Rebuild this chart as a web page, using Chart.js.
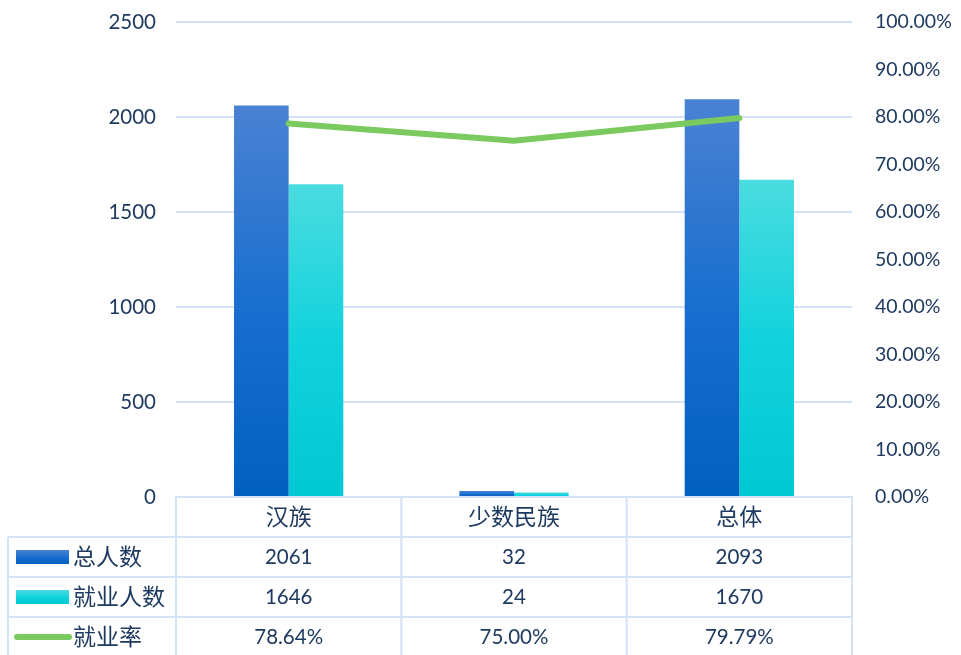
<!DOCTYPE html>
<html>
<head>
<meta charset="utf-8">
<script src="https://cdn.jsdelivr.net/npm/chart.js@4"></script>
<style>
  html, body { margin: 0; padding: 0; background: #fff; }
  #wrap { width: 961px; height: 655px; }
</style>
</head>
<body>
<div id="wrap"><canvas id="myChart"></canvas></div>
<script>
var categories = ["汉族", "少数民族", "总体"];
var totalCounts = [2061, 32, 2093];
var employedCounts = [1646, 24, 1670];
var employRates = [78.64, 75.00, 79.79];
var seriesNames = ["总人数", "就业人数", "就业率"];

var FONT = "Lato, 'Noto Sans CJK SC', sans-serif";
var CJK = "'Noto Sans CJK SC', sans-serif";
var TEXT = "#1f3a60";
var GRID = "#d3e2f4";

var blueStops = ["#4a82d3", "#1a6fcf", "#0060c0"];
var cyanStops = ["#4adce0", "#12d2dc", "#00c8d4"];

// vertical gradient per bar, scaled to the bar's own height
function barGradient(stops) {
    return function (context) {
        var chart = context.chart;
        if (!chart.chartArea || context.parsed == null) return stops[stops.length - 1];
        var y = chart.scales.y;
        var top = y.getPixelForValue(context.parsed.y);
        var bottom = y.getPixelForValue(0);
        if (!isFinite(top) || bottom - top < 1) return stops[stops.length - 1];
        var g = chart.ctx.createLinearGradient(0, top, 0, bottom);
        for (var i = 0; i < stops.length; i++) g.addColorStop(i / (stops.length - 1), stops[i]);
        return g;
    };
}

// data table under the plot, columns taken from the x scale
var tablePlugin = {
    id: 'dataTable',
    afterDraw: function (chart) {
        var ctx = chart.ctx;
        var x = chart.scales.x;
        var area = chart.chartArea;
        var left = area.left, right = area.right, top = area.bottom;
        var rowH = 40;
        var tableLeft = 8;
        var step = (right - left) / categories.length;

        ctx.save();
        ctx.strokeStyle = GRID;
        ctx.lineWidth = 2;
        ctx.beginPath();
        for (var i = 0; i <= categories.length; i++) {
            var vx = left + step * i;
            ctx.moveTo(vx, top);
            ctx.lineTo(vx, chart.height);
        }
        ctx.moveTo(tableLeft, top + rowH);
        ctx.lineTo(tableLeft, chart.height);
        for (var r = 1; r <= 3; r++) {
            ctx.moveTo(tableLeft, top + rowH * r);
            ctx.lineTo(right, top + rowH * r);
        }
        ctx.stroke();

        var rows = [
            totalCounts.map(function (v) { return String(v); }),
            employedCounts.map(function (v) { return String(v); }),
            employRates.map(function (v) { return v.toFixed(2) + "%"; })
        ];
        ctx.font = "20.5px " + FONT;
        ctx.fillStyle = TEXT;
        ctx.textBaseline = "middle";
        ctx.textAlign = "center";
        for (var r2 = 0; r2 < rows.length; r2++) {
            var cy = top + rowH * (r2 + 1) + rowH / 2;
            for (var c = 0; c < categories.length; c++) {
                ctx.fillText(rows[r2][c], x.getPixelForValue(c), cy);
            }
        }

        // legend keys
        var ds = chart.data.datasets;
        for (var k = 0; k < 3; k++) {
            var ky = top + rowH * (k + 1) + rowH / 2;
            if (k < 2) {
                var g = ctx.createLinearGradient(0, ky - 7, 0, ky + 7);
                var st = k === 0 ? blueStops : cyanStops;
                for (var s = 0; s < st.length; s++) g.addColorStop(s / (st.length - 1), st[s]);
                ctx.fillStyle = g;
                ctx.fillRect(16, ky - 7, 53, 14);
            } else {
                ctx.strokeStyle = ds[k].borderColor;
                ctx.lineWidth = 6;
                ctx.lineCap = "round";
                ctx.beginPath();
                ctx.moveTo(17, ky);
                ctx.lineTo(69, ky);
                ctx.stroke();
            }
            ctx.fillStyle = TEXT;
            ctx.textAlign = "left";
            ctx.font = "23px " + CJK;
            ctx.fillText(seriesNames[k], 73, ky - 1);
        }
        ctx.restore();
    }
};

var ctx = document.getElementById('myChart').getContext('2d');

var myChart = new Chart(ctx, {
    type: 'bar',
    data: {
        labels: categories,
        datasets: [{
            label: seriesNames[0],
            data: totalCounts,
            backgroundColor: barGradient(blueStops),
            categoryPercentage: 0.485,
            barPercentage: 1.0,
            yAxisID: 'y',
            order: 2
        }, {
            label: seriesNames[1],
            data: employedCounts,
            backgroundColor: barGradient(cyanStops),
            categoryPercentage: 0.485,
            barPercentage: 1.0,
            yAxisID: 'y',
            order: 2
        }, {
            type: 'line',
            label: seriesNames[2],
            data: employRates,
            borderColor: '#7aca5f',
            borderWidth: 6,
            borderCapStyle: 'round',
            pointRadius: 0,
            tension: 0,
            fill: false,
            yAxisID: 'y1',
            order: 0
        }]
    },
    options: {
        responsive: true,
        maintainAspectRatio: false,
        animation: false,
        layout: { padding: { top: 22, left: 0, right: 0, bottom: 0 } },
        plugins: {
            legend: { display: false },
            tooltip: { enabled: false }
        },
        scales: {
            x: {
                grid: { display: false, drawTicks: false },
                border: { color: GRID, width: 2 },
                ticks: { color: TEXT, font: { size: 23, family: CJK }, padding: 5 },
                afterFit: function (scale) { scale.height = 158; }
            },
            y: {
                position: 'left',
                min: 0, max: 2500,
                ticks: {
                    stepSize: 500, color: TEXT, font: { size: 20.5, family: FONT }, padding: 20,
                    callback: function (v) { return String(v); }
                },
                grid: { color: GRID, lineWidth: 2, drawTicks: false },
                border: { display: false },
                afterFit: function (scale) { scale.width = 176; scale.paddingTop = 0; scale.paddingBottom = 0; }
            },
            y1: {
                position: 'right',
                min: 0, max: 100,
                ticks: {
                    stepSize: 10, color: TEXT, font: { size: 19.5, family: FONT }, padding: 23,
                    callback: function (v) { return v.toFixed(2) + "%"; }
                },
                grid: { display: false, drawTicks: false },
                border: { display: false },
                afterFit: function (scale) { scale.width = 109; scale.paddingTop = 0; scale.paddingBottom = 0; }
            }
        }
    },
    plugins: [tablePlugin]
});
</script>
</body>
</html>
